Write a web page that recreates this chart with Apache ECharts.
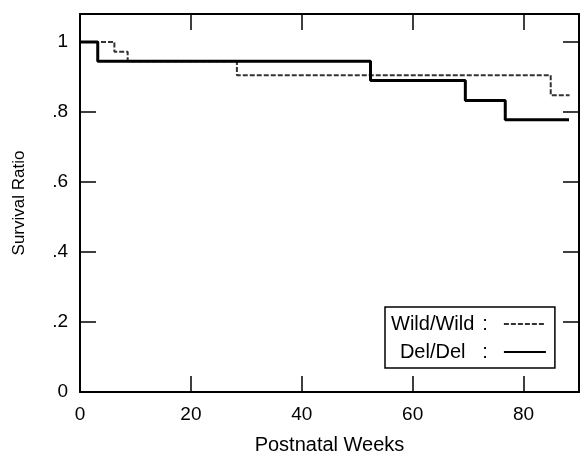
<!DOCTYPE html>
<html>
<head>
<meta charset="utf-8">
<script src="https://cdn.jsdelivr.net/npm/echarts@6/dist/echarts.min.js"></script>
<style>
  html, body { margin: 0; padding: 0; background: #fff; }
  #chart { width: 582px; height: 455px; }
</style>
</head>
<body>
<div id="chart"></div>
<script>
// survival curves
const seriesNames = ["Wild/Wild", "Del/Del"];
const wildWeeks = [0, 6.2, 8.6, 28.3, 84.9, 88.3];
const wildSurvival = [1, 0.972, 0.945, 0.905, 0.848, 0.848];
const delWeeks = [0, 3.2, 52.4, 69.5, 76.7, 88.2];
const delSurvival = [1, 0.945, 0.89, 0.833, 0.778, 0.778];

const font = "Liberation Sans, Arial, sans-serif";

function pairs(xs, ys) {
  return xs.map((x, i) => [x, ys[i]]);
}

function yLabel(v) {
  if (v === 0 || v === 1) return String(v);
  return (Math.round(v * 10) / 10).toString().replace(/^0/, "");
}

const chart = echarts.init(document.getElementById("chart"));

const tick = { show: true, inside: true, length: 16, lineStyle: { color: "#000", width: 1.5 } };
const line = { show: true, onZero: false, lineStyle: { color: "#000", width: 2 } };

chart.setOption({
  animation: false,
  backgroundColor: "#fff",
  textStyle: { fontFamily: font },
  grid: { left: 80, right: 3, top: 14, bottom: 63, outerBoundsMode: "none", containLabel: false },
  legend: {
    orient: "vertical",
    left: 385,
    top: 307,
    align: "right",
    padding: [7, 8, 6, 6],
    itemGap: 8,
    itemWidth: 42,
    itemHeight: 14,
    borderColor: "#000",
    borderWidth: 1.5,
    itemStyle: { opacity: 0 },
    data: seriesNames,
    formatter: (name) => "{n|" + name + "} :  ",
    textStyle: {
      color: "#000",
      fontSize: 20,
      fontFamily: font,
      rich: { n: { width: 88, align: "center", fontSize: 20, fontFamily: font } },
    },
  },
  xAxis: [
    {
      type: "value",
      min: 0,
      max: 90,
      interval: 20,
      name: "Postnatal Weeks",
      nameLocation: "middle",
      nameGap: 43,
      nameTextStyle: { color: "#000", fontSize: 20, fontFamily: font },
      axisLine: line,
      axisTick: tick,
      splitLine: { show: false },
      axisLabel: { color: "#000", fontSize: 19, margin: 13, showMaxLabel: false },
    },
    {
      type: "value",
      position: "top",
      min: 0,
      max: 90,
      interval: 20,
      axisLine: line,
      axisTick: tick,
      splitLine: { show: false },
      axisLabel: { show: false },
    },
  ],
  yAxis: [
    {
      type: "value",
      min: 0,
      max: 1.08,
      interval: 0.2,
      name: "Survival Ratio",
      nameLocation: "middle",
      nameGap: 52,
      nameTextStyle: { color: "#000", fontSize: 17, fontFamily: font },
      axisLine: line,
      axisTick: tick,
      splitLine: { show: false },
      axisLabel: { color: "#000", fontSize: 19, margin: 12, showMaxLabel: false, formatter: yLabel },
    },
    {
      type: "value",
      position: "right",
      min: 0,
      max: 1.08,
      interval: 0.2,
      axisLine: line,
      axisTick: tick,
      splitLine: { show: false },
      axisLabel: { show: false },
    },
  ],
  series: [
    {
      name: seriesNames[0],
      type: "line",
      step: "end",
      symbol: "none",
      color: "#333",
      lineStyle: { color: "#333", width: 2, type: [5, 2] },
      data: pairs(wildWeeks, wildSurvival),
    },
    {
      name: seriesNames[1],
      type: "line",
      step: "end",
      symbol: "none",
      color: "#000",
      lineStyle: { color: "#000", width: 3 },
      data: pairs(delWeeks, delSurvival),
    },
  ],
});
</script>
</body>
</html>
